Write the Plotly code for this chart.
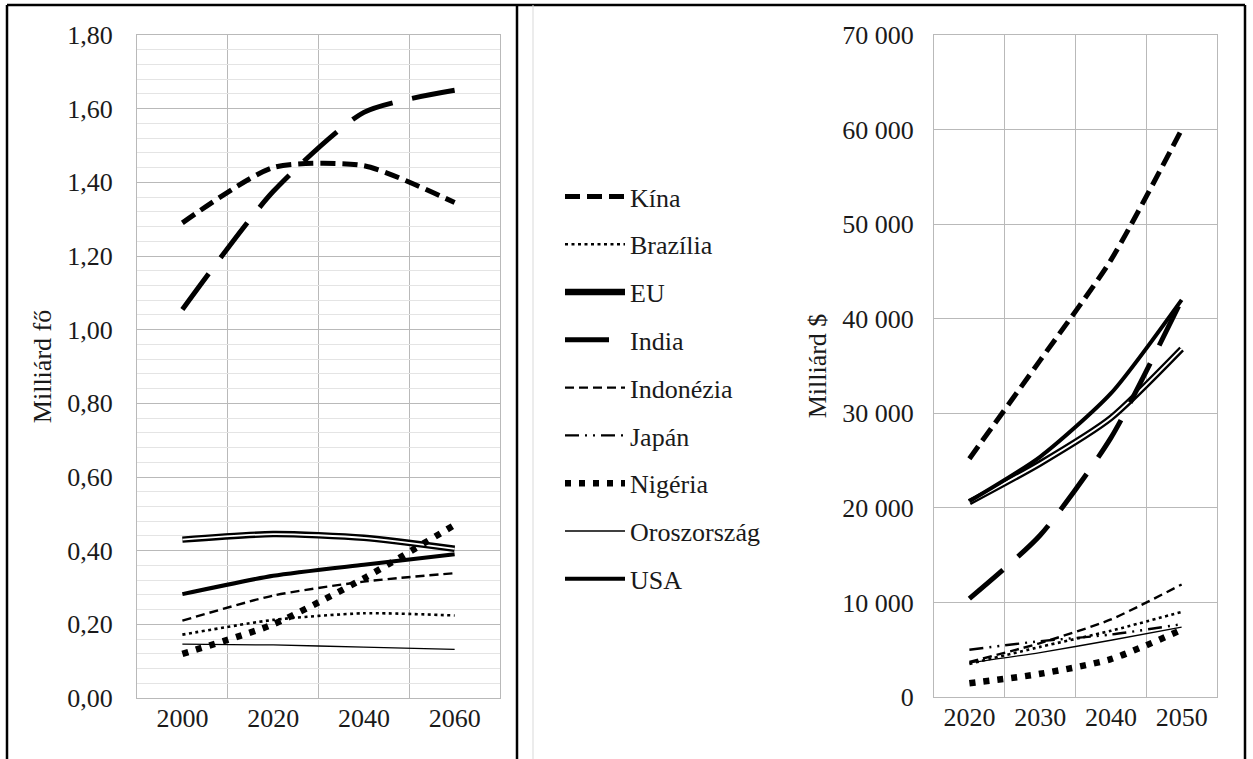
import plotly.graph_objects as go

# ---------------- data ----------------
years_pop = [2000, 2020, 2040, 2060]
years_gdp = [2020, 2030, 2040, 2050]

series = ["Kína", "Brazília", "EU", "India", "Indonézia", "Japán", "Nigéria", "Oroszország", "USA"]

# population, billion people (left chart); Japan not drawn in the left chart
pop_kina = [1.29, 1.44, 1.445, 1.345]
pop_brazilia = [0.172, 0.212, 0.23, 0.224]
pop_eu = [0.43, 0.445, 0.435, 0.405]
pop_india = [1.055, 1.375, 1.59, 1.65]
pop_indonezia = [0.21, 0.278, 0.316, 0.339]
pop_nigeria = [0.12, 0.20, 0.325, 0.47]
pop_oroszorszag = [0.146, 0.144, 0.138, 0.132]
pop_usa = [0.282, 0.332, 0.362, 0.39]

# GDP, billion $ (right chart)
gdp_kina = [25200, 35600, 46200, 60000]
gdp_brazilia = [3500, 5300, 7000, 9000]
gdp_eu = [20600, 24700, 29500, 36800]
gdp_india = [10400, 17100, 27400, 42000]
gdp_indonezia = [3700, 5700, 8200, 11900]
gdp_japan = [5000, 5900, 6600, 7700]
gdp_nigeria = [1450, 2450, 4000, 7100]
gdp_oroszorszag = [3600, 4700, 6000, 7400]
gdp_usa = [20700, 25400, 32100, 42000]

pop = {"Kína": pop_kina, "Brazília": pop_brazilia, "EU": pop_eu, "India": pop_india,
       "Indonézia": pop_indonezia, "Nigéria": pop_nigeria,
       "Oroszország": pop_oroszorszag, "USA": pop_usa}
gdp = {"Kína": gdp_kina, "Brazília": gdp_brazilia, "EU": gdp_eu, "India": gdp_india,
       "Indonézia": gdp_indonezia, "Japán": gdp_japan, "Nigéria": gdp_nigeria,
       "Oroszország": gdp_oroszorszag, "USA": gdp_usa}

# ---------------- styles ----------------
styles = {
    "Kína": dict(color="black", width=5, dash="15px,7px"),
    "Brazília": dict(color="black", width=2.6, dash="3px,3.5px"),
    "EU": dict(color="black", width=6.5, dash="solid"),
    "India": dict(color="black", width=5, dash="44px,20px"),
    "Indonézia": dict(color="black", width=2.4, dash="9px,5px"),
    "Japán": dict(color="black", width=2.4, dash="14px,6px,2px,6px,2px,6px"),
    "Nigéria": dict(color="black", width=6.5, dash="6px,8px"),
    "Oroszország": dict(color="black", width=1.3, dash="solid"),
    "USA": dict(color="black", width=4, dash="solid"),
}

FONT = "Liberation Serif, Times New Roman, Times, serif"
FS = 26
W, H = 1253, 759
SMOOTH = 0.65

fig = go.Figure()

def add(name, x, y, xa, ya, legend):
    st = styles[name]
    fig.add_trace(go.Scatter(
        x=x, y=y, name=name, mode="lines", xaxis=xa, yaxis=ya,
        line=dict(color=st["color"], width=st["width"], dash=st["dash"],
                  shape="spline", smoothing=SMOOTH),
        legendgroup=name, showlegend=legend, hoverinfo="x+y+name"))
    if name == "EU":
        fig.add_trace(go.Scatter(
            x=x, y=y, name=name, mode="lines", xaxis=xa, yaxis=ya,
            line=dict(color="white", width=1.8, shape="spline", smoothing=SMOOTH),
            legendgroup=name, showlegend=False, hoverinfo="skip"))

for name in series:
    if name in pop:
        add(name, years_pop, pop[name], "x", "y", False)
for name in series:
    add(name, years_gdp, gdp[name], "x2", "y2", True)

grid_major = "#b9b9b9"
grid_minor = "#e4e4e4"
TXT = "#1a1a1a"
tickfont = dict(family=FONT, size=FS, color=TXT)

def px_x(v):
    return v / W

def px_y(v):
    return 1 - v / H

common = dict(ticks="", showline=True, linecolor=grid_major, linewidth=1.3, mirror=True,
              zeroline=False, automargin=False, tickfont=tickfont, fixedrange=True)

fig.update_layout(
    template="none",
    width=W, height=H,
    margin=dict(l=0, r=0, t=0, b=0, pad=0),
    paper_bgcolor="white", plot_bgcolor="white",
    separators=", ",
    font=dict(family=FONT, size=FS, color=TXT),
    showlegend=True,
    hovermode="closest",
    legend=dict(x=px_x(560), y=px_y(173), xanchor="left", yanchor="top",
                font=dict(family=FONT, size=FS, color=TXT),
                tracegroupgap=11, itemwidth=60, bgcolor="rgba(0,0,0,0)",
                borderwidth=0),
    xaxis=dict(domain=[px_x(137), px_x(500)], range=[1990, 2070],
               tickmode="linear", tick0=2000, dtick=20, showgrid=False,
               minor=dict(tick0=1990, dtick=10, showgrid=True, gridcolor=grid_major, gridwidth=1.3),
               ticklabelstandoff=-3, anchor="y", **common),
    yaxis=dict(domain=[px_y(698), px_y(35)], range=[0, 1.8],
               tickmode="linear", tick0=0, dtick=0.2, tickformat=".2f",
               showgrid=True, gridcolor=grid_major, gridwidth=1.3,
               minor=dict(dtick=0.04, showgrid=True, gridcolor=grid_minor, gridwidth=1),
               ticklabelstandoff=18, anchor="x",
               title=dict(text="Milliárd fő", font=dict(family=FONT, size=FS, color=TXT), standoff=8),
               **common),
    xaxis2=dict(domain=[px_x(934), px_x(1217)], range=[2015, 2055],
                tickmode="linear", tick0=2020, dtick=10, showgrid=False,
                minor=dict(tick0=2015, dtick=5, showgrid=True, gridcolor=grid_major, gridwidth=1.3),
                ticklabelstandoff=-3, anchor="y2", **common),
    yaxis2=dict(domain=[px_y(697), px_y(35)], range=[0, 70000],
                tickmode="linear", tick0=0, dtick=10000, tickformat=",d",
                showgrid=True, gridcolor=grid_major, gridwidth=1.3,
                ticklabelstandoff=14, anchor="x2",
                title=dict(text="Milliárd $", font=dict(family=FONT, size=FS, color=TXT), standoff=8),
                **common),
)

# table frame around the two charts
frame = dict(type="line", xref="paper", yref="paper", line=dict(color="black", width=2.5))
fig.add_shape(**frame, x0=px_x(7), x1=px_x(1245), y0=px_y(5), y1=px_y(5))
fig.add_shape(**frame, x0=px_x(7), x1=px_x(7), y0=px_y(5), y1=px_y(759))
fig.add_shape(**frame, x0=px_x(517), x1=px_x(517), y0=px_y(5), y1=px_y(759))
fig.add_shape(**frame, x0=px_x(1245), x1=px_x(1245), y0=px_y(5), y1=px_y(759))
fig.add_shape(type="line", xref="paper", yref="paper", line=dict(color="#d9d9d9", width=1),
              x0=px_x(533), x1=px_x(533), y0=px_y(5), y1=px_y(759))

fig.write_html("out.html",
               config={"displayModeBar": False},
               post_script="document.body.style.margin='0px';document.body.style.overflow='hidden';")
